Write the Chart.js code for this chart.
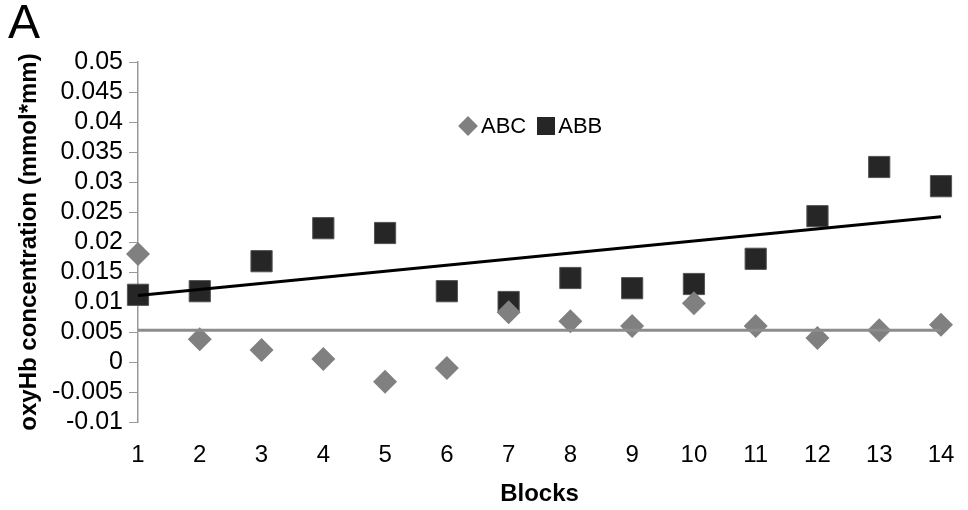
<!DOCTYPE html>
<html>
<head>
<meta charset="utf-8">
<script src="https://cdn.jsdelivr.net/npm/chart.js@4.4.0/dist/chart.umd.min.js"></script>
<style>
  body { margin: 0; background: #fff; font-family: "Liberation Sans", Arial, sans-serif; }
  #wrap { position: relative; width: 968px; height: 510px; }
  #letra { position: absolute; left: 8px; top: -6px; font-size: 48px; color: #000; }
  #legenda { position: absolute; left: 458px; top: 113px; font-size: 22px; color: #000; display: flex; align-items: center; }
  .diamante { display: inline-block; width: 14px; height: 14px; background: #808080; transform: rotate(45deg); margin: 0 6px 0 3px; }
  .quadrado { display: inline-block; width: 18px; height: 18px; background: #262626; margin: 0 3px 0 11px; }
</style>
</head>
<body>
<div id="wrap">
  <canvas id="grafico_oxyhb"></canvas>
  <div id="letra">A</div>
  <div id="legenda"><span class="diamante"></span>ABC<span class="quadrado"></span>ABB</div>
</div>
<script>
// Blocos e valores
const blocos = [1, 2, 3, 4, 5, 6, 7, 8, 9, 10, 11, 12, 13, 14];
const valoresABC = [0.018, 0.0038, 0.002, 0.0005, -0.0033, -0.001, 0.0083, 0.0068, 0.006, 0.0098, 0.006, 0.004, 0.0053, 0.0062];
const valoresABB = [0.0112, 0.0118, 0.0168, 0.0223, 0.0215, 0.0118, 0.01, 0.014, 0.0123, 0.013, 0.0172, 0.0243, 0.0325, 0.0293];

// Linhas de tendência (extremos)
const tendenciaX = [1, 14];
const tendenciaABC = [0.0053, 0.0053];
const tendenciaABB = [0.0111, 0.0242];

const fonte = '"Liberation Sans", Arial, sans-serif';

function pontos(xs, ys) {
    return xs.map((x, i) => ({ x: x, y: ys[i] }));
}

function criarGrafico() {
    const canvas = document.getElementById('grafico_oxyhb');
    canvas.width = 968;
    canvas.height = 510;

    new Chart(canvas.getContext('2d'), {
        type: 'scatter',
        data: {
            datasets: [
                {
                    label: 'tendência ABC',
                    data: pontos(tendenciaX, tendenciaABC),
                    showLine: true,
                    borderColor: '#8c8c8c',
                    borderWidth: 3,
                    pointRadius: 0,
                    clip: false
                },
                {
                    label: 'tendência ABB',
                    data: pontos(tendenciaX, tendenciaABB),
                    showLine: true,
                    borderColor: '#000',
                    borderWidth: 3,
                    pointRadius: 0,
                    clip: false
                },
                {
                    label: 'ABC',
                    data: pontos(blocos, valoresABC),
                    pointStyle: 'rectRot',
                    pointRadius: 12,
                    pointHoverRadius: 12,
                    backgroundColor: '#808080',
                    borderColor: '#808080',
                    borderWidth: 0,
                    clip: false
                },
                {
                    label: 'ABB',
                    data: pontos(blocos, valoresABB),
                    pointStyle: 'rect',
                    pointRadius: 15,
                    pointHoverRadius: 15,
                    backgroundColor: '#262626',
                    borderColor: '#555',
                    borderWidth: 1,
                    clip: false
                }
            ]
        },
        options: {
            responsive: false,
            animation: false,
            layout: { padding: { top: 62, right: 27, left: 0, bottom: 0 } },
            plugins: {
                legend: { display: false },
                tooltip: { enabled: false }
            },
            scales: {
                x: {
                    type: 'linear',
                    min: 1,
                    max: 14,
                    afterFit: (scale) => {
                        scale.height = 88;
                        scale.paddingLeft = 0;
                        scale.paddingRight = 0;
                    },
                    ticks: {
                        stepSize: 1,
                        autoSkip: false,
                        maxRotation: 0,
                        padding: 19,
                        color: '#000',
                        font: { family: fonte, size: 24 }
                    },
                    grid: { display: false, drawTicks: false },
                    border: { display: false },
                    title: {
                        display: true,
                        text: 'Blocks',
                        color: '#000',
                        font: { family: fonte, size: 24, weight: 'bold' },
                        padding: { top: 0, bottom: 1 }
                    }
                },
                y: {
                    min: -0.01,
                    max: 0.05,
                    afterFit: (scale) => { scale.width = 138; },
                    ticks: {
                        stepSize: 0.005,
                        autoSkip: false,
                        padding: 6,
                        color: '#000',
                        font: { family: fonte, size: 25 },
                        callback: (valor) => String(+valor.toFixed(3))
                    },
                    grid: {
                        drawOnChartArea: false,
                        drawTicks: true,
                        tickLength: 9,
                        color: '#999'
                    },
                    border: { display: true, color: '#999', width: 1.5 },
                    title: {
                        display: true,
                        text: 'oxyHb concentration (mmol*mm)',
                        color: '#000',
                        font: { family: fonte, size: 24, weight: 'bold' },
                        padding: { top: 15, bottom: 0 }
                    }
                }
            }
        }
    });
}

criarGrafico();
</script>
</body>
</html>
